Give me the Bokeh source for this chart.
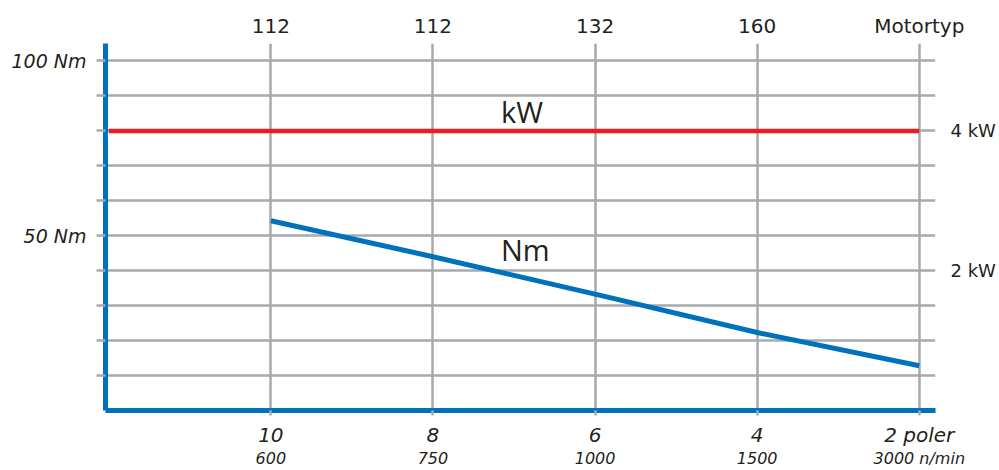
from bokeh.plotting import figure
from bokeh.models import FixedTicker, LinearAxis, Range1d, Label, Grid
from bokeh.embed import file_html
from bokeh.resources import INLINE

# ---- data ----
positions = [1, 2, 3, 4, 5]
motor_types = ["112", "112", "132", "160", "Motortyp"]
poles = ["10", "8", "6", "4", "2 poler"]
speeds = ["600", "750", "1000", "1500", "3000 n/min"]
torque_nm = [54.3, 44.0, 33.3, 22.3, 12.8]
power_x = [0, 5]
power_kw = [4, 4]
nm_ticks = [10, 20, 30, 40, 50, 60, 70, 80, 90, 100]
nm_labels = {50: "50 Nm", 100: "100 Nm"}
kw_ticks = [2, 4]
kw_labels = {2: "2 kW", 4: "4 kW"}

BLUE = "#0072bc"
RED = "#ed1c24"
GRID = "#a7a9ac"
TEXT = "#231f20"
FONT = "DejaVu Sans"
INNER_FONT = "Open Sans"

p = figure(width=999, height=470, output_backend="svg", toolbar_location=None,
           x_range=Range1d(-0.02, 5.1), y_range=Range1d(0, 105),
           x_axis_type=None, y_axis_type=None,
           min_border_left=105, min_border_right=64, min_border_top=43, min_border_bottom=60)
p.outline_line_color = None
p.background_fill_color = "white"
p.extra_y_ranges = {"kw": Range1d(0, 5.25)}

# left axis (Nm)
ly = LinearAxis(ticker=FixedTicker(ticks=nm_ticks))
ly.major_label_overrides = {t: nm_labels.get(t, "") for t in nm_ticks}
ly.axis_line_color = BLUE
ly.axis_line_width = 5
ly.major_tick_line_color = GRID
ly.major_tick_line_width = 2.5
ly.major_tick_out = 9
ly.major_tick_in = 0
ly.minor_tick_line_color = None
ly.minor_tick_out = 0
ly.minor_tick_in = 0
ly.major_label_standoff = 10
ly.major_label_text_font = FONT
ly.major_label_text_font_size = "19px"
ly.major_label_text_font_style = "italic"
ly.major_label_text_color = TEXT
p.add_layout(ly, "left")

# right axis (kW)
ry = LinearAxis(y_range_name="kw", ticker=FixedTicker(ticks=kw_ticks))
ry.major_label_overrides = kw_labels
ry.axis_line_color = None
ry.major_tick_line_color = None
ry.minor_tick_line_color = None
ry.major_tick_out = 0
ry.major_tick_in = 0
ry.minor_tick_out = 0
ry.minor_tick_in = 0
ry.major_label_standoff = 15
ry.major_label_text_font = FONT
ry.major_label_text_font_size = "18px"
ry.major_label_text_color = TEXT
p.add_layout(ry, "right")

# top axis (motor type)
tx = LinearAxis(ticker=FixedTicker(ticks=positions))
tx.major_label_overrides = dict(zip(positions, motor_types))
tx.axis_line_color = None
tx.major_tick_line_color = None
tx.minor_tick_line_color = None
tx.major_tick_out = 0
tx.major_tick_in = 0
tx.minor_tick_out = 0
tx.minor_tick_in = 0
tx.major_label_standoff = 6
tx.major_label_text_font = FONT
tx.major_label_text_font_size = "20px"
tx.major_label_text_color = TEXT
p.add_layout(tx, "above")

# bottom axis 1 (poles)
bx = LinearAxis(ticker=FixedTicker(ticks=positions))
bx.major_label_overrides = dict(zip(positions, poles))
bx.axis_line_color = BLUE
bx.axis_line_width = 5
bx.major_tick_line_color = GRID
bx.major_tick_line_width = 2.5
bx.major_tick_out = 5
bx.major_tick_in = 0
bx.minor_tick_line_color = None
bx.minor_tick_out = 0
bx.minor_tick_in = 0
bx.major_label_standoff = 7
bx.major_label_text_font = FONT
bx.major_label_text_font_size = "20px"
bx.major_label_text_font_style = "italic"
bx.major_label_text_color = TEXT
p.add_layout(bx, "below")

# bottom axis 2 (speed)
bx2 = LinearAxis(ticker=FixedTicker(ticks=positions))
bx2.major_label_overrides = dict(zip(positions, speeds))
bx2.axis_line_color = None
bx2.major_tick_line_color = None
bx2.minor_tick_line_color = None
bx2.major_tick_out = 0
bx2.major_tick_in = 0
bx2.minor_tick_out = 0
bx2.minor_tick_in = 0
bx2.major_label_standoff = -1
bx2.major_label_text_font = FONT
bx2.major_label_text_font_size = "16px"
bx2.major_label_text_font_style = "italic"
bx2.major_label_text_color = TEXT
p.add_layout(bx2, "below")

# grids
p.add_layout(Grid(dimension=0, ticker=FixedTicker(ticks=positions),
                  grid_line_color=GRID, grid_line_width=2.5))
p.add_layout(Grid(dimension=1, ticker=FixedTicker(ticks=nm_ticks),
                  grid_line_color=GRID, grid_line_width=2.5))

# series
p.line(power_x, power_kw, y_range_name="kw", line_color=RED, line_width=4.5)
p.line(positions, torque_nm, line_color=BLUE, line_width=5)

p.add_layout(Label(x=2.55, y=85.5, text="kW", text_align="center", text_baseline="middle",
                   text_font=INNER_FONT, text_font_size="29px", text_color=TEXT))
p.add_layout(Label(x=2.57, y=46, text="Nm", text_align="center", text_baseline="middle",
                   text_font=INNER_FONT, text_font_size="29px", text_color=TEXT))

open("out.html", "w").write(file_html(p, INLINE))
